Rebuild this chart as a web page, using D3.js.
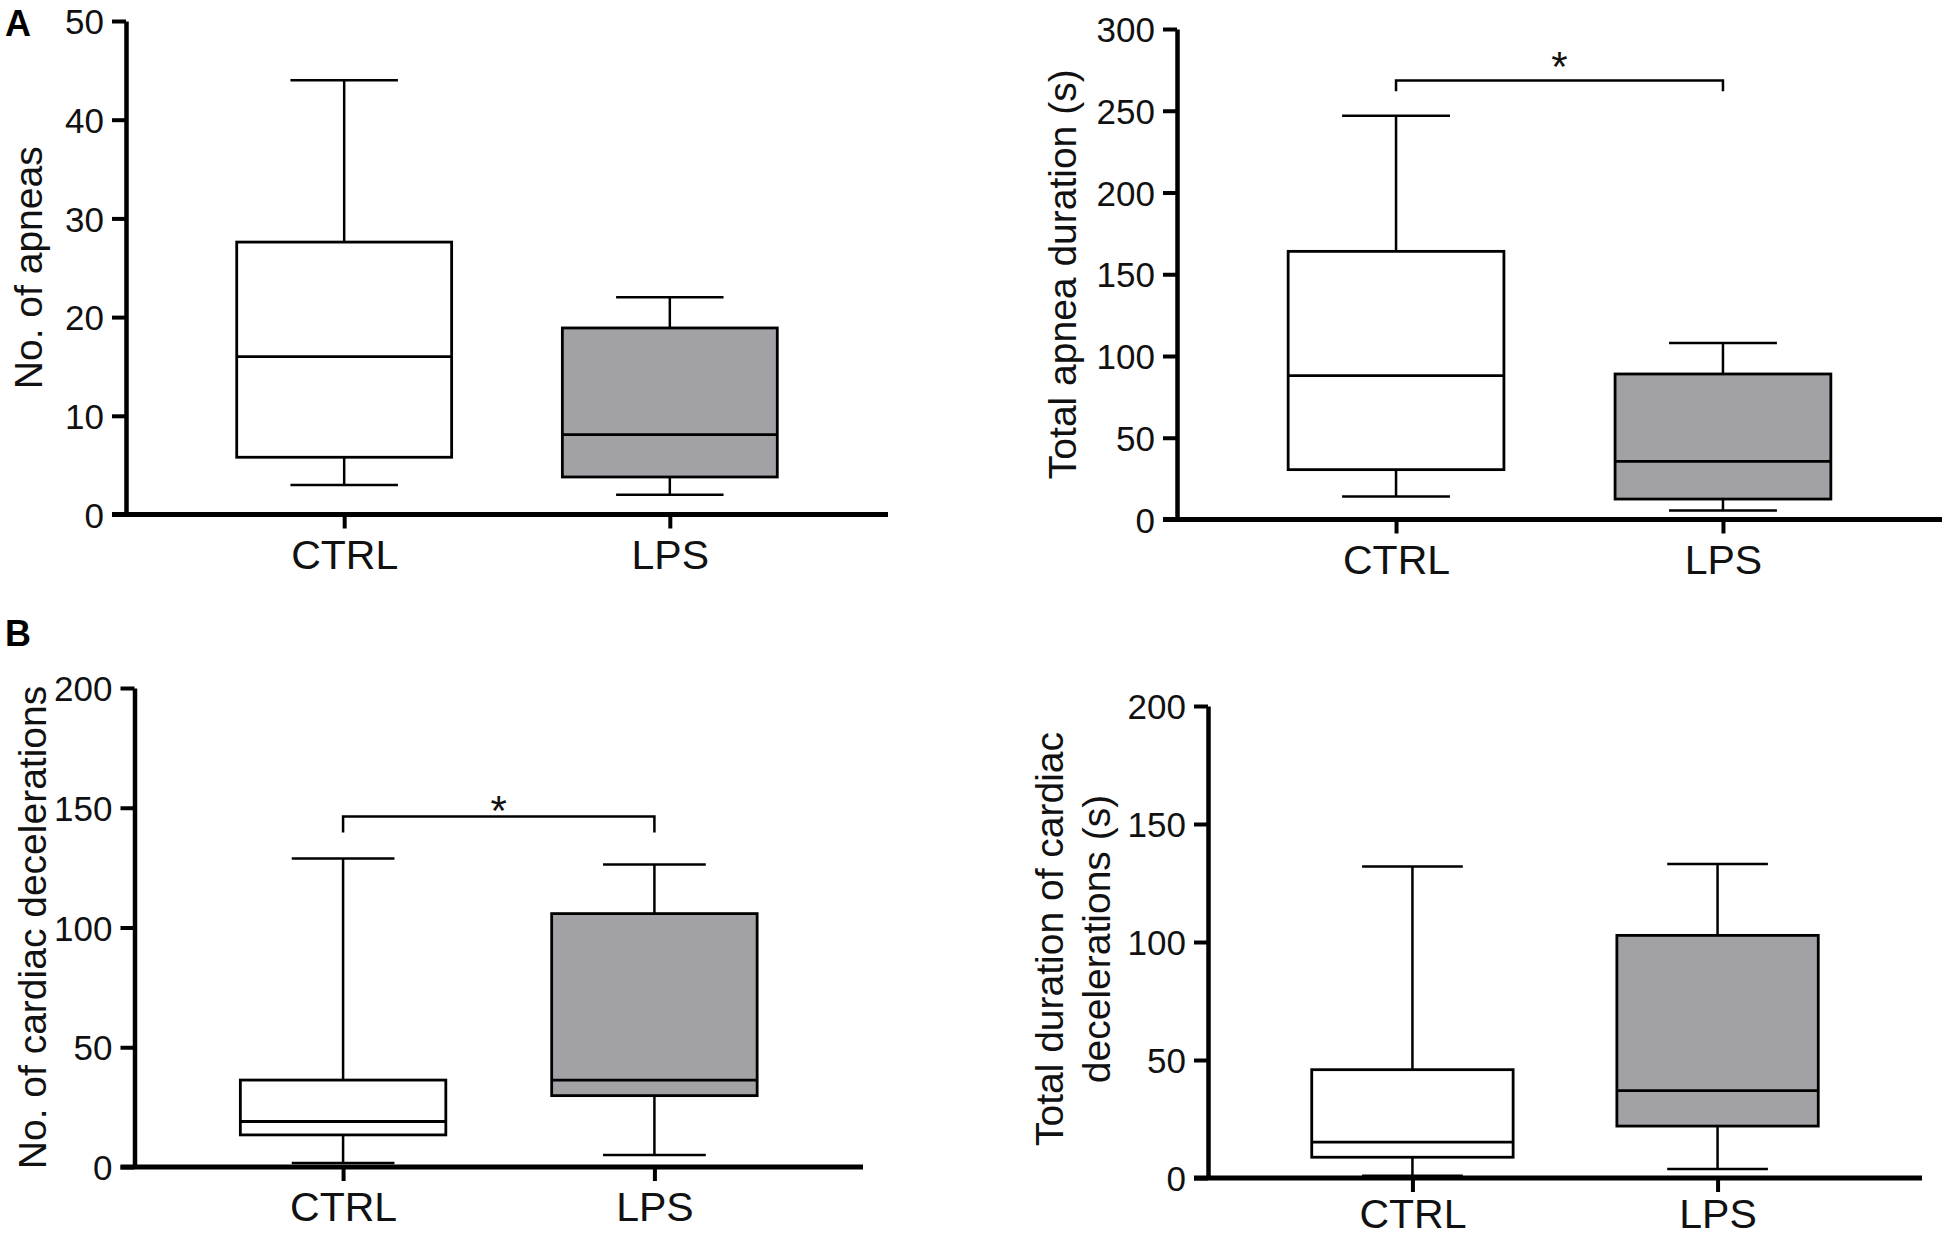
<!DOCTYPE html>
<html>
<head>
<meta charset="utf-8">
<script src="https://cdn.jsdelivr.net/npm/d3@7"></script>
<style>
  html, body { margin: 0; padding: 0; background: #fff; }
  svg { display: block; }
</style>
</head>
<body>
<div id="chart"></div>
<script>
// Box plots - apneas and cardiac decelerations, CTRL vs LPS

// Data: each array is [min, q1, median, q3, max]
const groups = ['CTRL', 'LPS'];

const apneaCountCtrl = [3, 5.8, 16, 27.6, 44];
const apneaCountLps = [2, 3.8, 8.1, 18.9, 22];
const apneaCountTicks = [0, 10, 20, 30, 40, 50];

const apneaDurCtrl = [14, 30.5, 88, 164, 247];
const apneaDurLps = [5.5, 12.5, 35.5, 89, 108];
const apneaDurTicks = [0, 50, 100, 150, 200, 250, 300];

const decelCountCtrl = [1.7, 13.4, 19, 36.3, 128.8];
const decelCountLps = [5, 29.8, 36.3, 105.8, 126.3];
const decelCountTicks = [0, 50, 100, 150, 200];

const decelDurCtrl = [1, 8.8, 15.2, 45.9, 132];
const decelDurLps = [3.8, 22, 37, 102.8, 133];
const decelDurTicks = [0, 50, 100, 150, 200];

// significance brackets: [bar level, end level, star level]
const apneaDurSig = [268.5, 262, 283];
const decelCountSig = [146.3, 139.7, 153];

const FONT = '"Liberation Sans", Arial, Helvetica, sans-serif';
const fills = ['#ffffff', '#a2a2a6'];

const width = 1953, height = 1239;

const svg = d3.select('#chart').append('svg')
    .attr('width', width)
    .attr('height', height)
    .style('font-family', FONT);

svg.append('rect').attr('width', width).attr('height', height).attr('fill', '#fff');

function drawPanel(p) {
    const x = d3.scalePoint()
        .domain(groups)
        .range([p.left, p.right])
        .padding(0.67);
    const y = d3.scaleLinear()
        .domain([0, d3.max(p.ticks)])
        .range([p.bottom, p.top]);

    const step = x.step();
    const boxW = step * 0.66;
    const capW = step * 0.33;

    const stats = groups.map((k, i) => ({ key: k, v: p.values[i], fill: fills[i] }));
    const g = svg.append('g');

    // whiskers
    const wh = g.selectAll('.whisker').data(stats).enter().append('g')
        .attr('stroke', '#000').attr('stroke-width', 2.5).attr('fill', 'none');
    wh.append('line')
        .attr('x1', d => x(d.key)).attr('x2', d => x(d.key))
        .attr('y1', d => y(d.v[0])).attr('y2', d => y(d.v[4]));
    wh.append('line')
        .attr('x1', d => x(d.key) - capW / 2).attr('x2', d => x(d.key) + capW / 2)
        .attr('y1', d => y(d.v[4])).attr('y2', d => y(d.v[4]));
    wh.append('line')
        .attr('x1', d => x(d.key) - capW / 2).attr('x2', d => x(d.key) + capW / 2)
        .attr('y1', d => y(d.v[0])).attr('y2', d => y(d.v[0]));

    // boxes
    g.selectAll('.box').data(stats).enter().append('rect')
        .attr('x', d => x(d.key) - boxW / 2)
        .attr('width', boxW)
        .attr('y', d => y(d.v[3]))
        .attr('height', d => y(d.v[1]) - y(d.v[3]))
        .attr('fill', d => d.fill)
        .attr('stroke', '#000')
        .attr('stroke-width', 2.8);

    // medians
    g.selectAll('.median').data(stats).enter().append('line')
        .attr('x1', d => x(d.key) - boxW / 2).attr('x2', d => x(d.key) + boxW / 2)
        .attr('y1', d => y(d.v[2])).attr('y2', d => y(d.v[2]))
        .attr('stroke', '#000').attr('stroke-width', 2.8);

    // y axis
    const yAx = g.append('g')
        .attr('transform', `translate(${p.left},0)`)
        .call(d3.axisLeft(y).tickValues(p.ticks).tickSize(14).tickSizeOuter(0).tickPadding(8));
    yAx.select('.domain').attr('stroke', '#000').attr('stroke-width', 4.5);
    yAx.selectAll('.tick line').attr('stroke', '#000').attr('stroke-width', 4);
    yAx.selectAll('.tick text')
        .attr('dy', '0.36em')
        .attr('fill', '#111')
        .style('font-family', FONT)
        .style('font-size', '35px');

    // x axis
    const xAx = g.append('g')
        .attr('transform', `translate(0,${p.bottom})`)
        .call(d3.axisBottom(x).tickSize(14).tickSizeOuter(0).tickPadding(p.labelPad || 11));
    xAx.select('.domain')
        .attr('d', `M${p.left - 14},0H${p.right}`)
        .attr('stroke', '#000').attr('stroke-width', 5);
    xAx.selectAll('.tick line').attr('stroke', '#000').attr('stroke-width', 4);
    xAx.selectAll('.tick text')
        .attr('fill', '#111')
        .style('font-family', FONT)
        .style('font-size', '41px');

    // y axis title (one or two lines)
    const mid = (p.top + p.bottom) / 2 + (p.titleShift || 0);
    p.title.forEach((line, i) => {
        g.append('text')
            .attr('transform', `translate(${p.titleX[i]},${mid}) rotate(-90)`)
            .attr('text-anchor', 'middle')
            .attr('fill', '#111')
            .style('font-size', '39px')
            .text(line);
    });

    // significance bracket
    if (p.sig) {
        const xa = x(groups[0]), xb = x(groups[1]);
        g.append('path')
            .attr('d', `M${xa},${y(p.sig[1])}V${y(p.sig[0])}H${xb}V${y(p.sig[1])}`)
            .attr('fill', 'none')
            .attr('stroke', '#000')
            .attr('stroke-width', 2.5);
        g.append('text')
            .attr('x', (xa + xb) / 2)
            .attr('y', y(p.sig[2]) + 24)
            .attr('text-anchor', 'middle')
            .attr('fill', '#111')
            .style('font-size', '42px')
            .text('*');
    }
}

drawPanel({
    values: [apneaCountCtrl, apneaCountLps], ticks: apneaCountTicks,
    left: 126, right: 888, top: 21, bottom: 514.5,
    title: ['No. of apneas'], titleX: [42]
});

drawPanel({
    values: [apneaDurCtrl, apneaDurLps], ticks: apneaDurTicks,
    left: 1177, right: 1942, top: 29, bottom: 519.5,
    title: ['Total apnea duration (s)'], titleX: [1076],
    sig: apneaDurSig
});

drawPanel({
    values: [decelCountCtrl, decelCountLps], ticks: decelCountTicks,
    left: 134.5, right: 863, top: 688, bottom: 1167,
    title: ['No. of cardiac decelerations'], titleX: [46],
    sig: decelCountSig
});

drawPanel({
    values: [decelDurCtrl, decelDurLps], ticks: decelDurTicks,
    left: 1208, right: 1922, top: 706, bottom: 1178,
    title: ['Total duration of cardiac', 'decelerations (s)'], titleX: [1063, 1110],
    titleShift: -3, labelPad: 7
});

// panel letters
svg.append('text').attr('x', 5).attr('y', 36)
    .style('font-size', '36px').style('font-weight', 'bold').text('A');
svg.append('text').attr('x', 5).attr('y', 646)
    .style('font-size', '36px').style('font-weight', 'bold').text('B');
</script>
</body>
</html>
